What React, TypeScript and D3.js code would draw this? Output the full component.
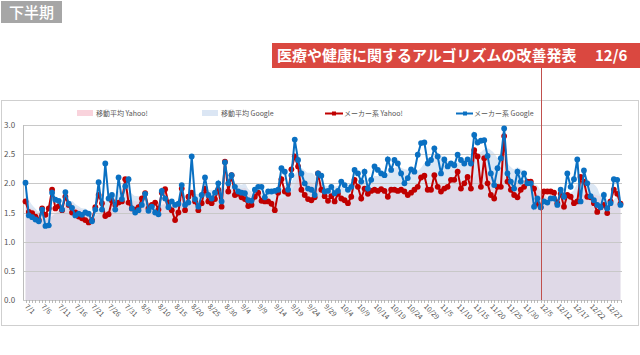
import React from "react";
import * as d3 from "d3";

const xLabels = ["7/1","7/6","7/11","7/16","7/21","7/26","7/31","8/5","8/10","8/15","8/20","8/25","8/30","9/4","9/9","9/14","9/19","9/24","9/29","10/4","10/9","10/14","10/19","10/24","10/29","11/5","11/10","11/15","11/20","11/25","11/30","12/5","12/12","12/17","12/22","12/27"];

const yahoo = [
  1.69,1.51,1.49,1.43,1.37,1.57,1.46,1.57,1.89,1.57,
  1.61,1.54,1.77,1.63,1.50,1.50,1.43,1.40,1.37,1.33,
  1.37,1.59,1.80,1.66,1.44,1.47,1.70,1.63,1.67,1.69,
  2.07,1.67,1.57,1.55,1.59,1.74,1.83,1.57,1.63,1.67,
  1.55,1.84,1.90,1.67,1.54,1.37,1.50,1.91,1.54,1.77,
  1.84,1.69,1.54,1.66,1.91,1.69,1.66,1.73,1.89,1.60,
  2.37,1.86,2.14,1.80,1.82,1.76,1.73,1.61,1.63,1.77,
  1.84,1.70,1.69,1.69,1.65,1.54,1.84,2.07,1.86,1.82,
  2.24,2.46,2.29,1.89,1.80,1.73,1.71,1.76,2.17,1.89,
  1.78,1.70,1.78,1.69,1.82,1.74,1.71,1.66,1.77,2.06,
  1.94,1.74,1.91,1.82,1.87,1.89,1.87,1.90,1.87,1.77,
  1.89,1.89,1.87,1.89,1.86,1.80,1.84,1.89,1.94,2.10,
  2.13,1.89,1.89,2.14,1.94,1.86,1.91,1.94,2.06,2.06,
  2.20,1.91,2.00,2.11,1.91,2.57,2.46,1.94,2.43,2.00,
  1.80,1.74,1.94,1.94,2.81,2.03,1.89,1.80,1.76,1.89,
  1.94,2.03,2.03,1.91,1.65,1.59,1.86,1.86,1.86,1.84,
  1.66,1.82,1.60,1.80,1.77,1.66,1.69,2.11,2.03,1.77,
  1.76,1.66,1.51,1.59,1.63,1.49,1.69,1.89,1.82,1.65
];

const google = [
  2.01,1.45,1.42,1.38,1.35,1.55,1.27,1.28,1.84,1.72,
  1.70,1.55,1.85,1.65,1.58,1.45,1.48,1.46,1.50,1.48,
  1.35,1.55,2.02,1.55,2.34,1.74,1.80,1.55,2.10,1.73,
  1.95,2.07,1.57,1.50,1.54,1.63,1.82,1.53,1.60,1.50,
  1.47,1.87,1.74,1.59,1.69,1.63,1.65,1.97,1.63,1.67,
  2.46,1.73,1.60,1.80,2.10,1.80,1.74,1.84,2.00,1.69,
  2.36,2.00,2.14,1.94,1.86,1.84,1.83,1.71,1.70,1.89,
  1.94,1.94,1.76,1.86,1.86,1.87,1.89,2.26,2.20,1.89,
  2.14,2.75,2.40,2.17,2.00,1.91,1.89,1.80,2.17,2.13,
  1.86,1.87,1.94,1.83,1.87,2.03,1.97,1.89,1.94,2.23,
  2.17,2.03,2.20,1.91,2.06,2.29,2.23,2.17,2.14,2.41,
  2.23,2.40,2.34,2.17,2.00,2.09,2.24,2.20,2.49,2.69,
  2.70,2.34,2.40,2.60,2.46,2.17,2.41,2.29,2.34,2.31,
  2.49,2.40,2.34,2.41,2.34,2.83,2.70,2.73,2.74,2.47,
  2.17,1.97,2.26,2.43,2.94,2.17,2.03,1.91,2.20,2.03,
  2.17,2.00,2.00,1.60,1.74,1.59,1.69,1.67,1.74,1.74,
  1.63,1.89,1.77,2.17,1.94,2.07,2.41,1.69,2.22,2.00,
  1.78,1.71,1.63,1.59,1.80,1.57,1.66,2.07,2.06,1.63
];

const yTicks = [0, 0.5, 1.0, 1.5, 2.0, 2.5, 3.0];
const legendNames = ["移動平均 Yahoo!", "移動平均 Google", "メーカー系 Yahoo!", "メーカー系 Google"];
const bannerText = "医療や健康に関するアルゴリズムの改善発表";
const bannerDate = "12/6";
const eventIndex = 155;
const maWindow = 7;

function movingAvg(arr: number[], w: number) {
  return arr.map((_, i) => d3.mean(arr.slice(Math.max(0, i - w + 1), i + 1)) as number);
}

export default function App() {
  const W = 640, H = 355;
  const x = d3.scaleLinear().domain([0, yahoo.length - 1]).range([25.5, 620.5]);
  const y = d3.scaleLinear().domain([0, 3]).range([300, 125]);
  const plotL = 23, plotR = 622;

  const maY = movingAvg(yahoo, maWindow);
  const maG = movingAvg(google, maWindow);

  const area = d3.area<number>().x((_, i) => x(i)).y0(y(0)).y1((d) => y(d)).curve(d3.curveMonotoneX);
  const line = d3.line<number>().x((_, i) => x(i)).y((d) => y(d));

  const font = "'Noto Sans CJK JP', 'Noto Sans', sans-serif";
  const red = "#c00000";
  const blue = "#0a70c2";

  return (
    <div style={{ position: "absolute", left: 0, top: 0 }}>
      <svg width={W} height={H} style={{ display: "block", fontFamily: font }}>
        <rect x={0} y={0} width={W} height={H} fill="#fff" />
        {/* top-left label */}
        <rect x={1} y={1} width={61} height={22} fill="#a6a6a6" />
        <text x={9} y={18} fill="#fff" fontSize={15} fontWeight={500}>下半期</text>

        {/* frame */}
        <rect x={1.5} y={100.5} width={637} height={225} fill="none" stroke="#cfcfcf" strokeWidth={1} />

        {/* areas */}
        <path d={area(maG) || ""} fill="#dce7f4" />
        <path d={area(maY) || ""} fill="#eca8bc" fillOpacity={0.22} />

        {/* grid */}
        {yTicks.map((t) => (
          <g key={t}>
            <line x1={plotL} x2={plotR} y1={Math.round(y(t)) + 0.5} y2={Math.round(y(t)) + 0.5} stroke="#c8c8c8" strokeWidth={1} />
            <text x={4} y={y(t) + 3} fontSize={8} fill="#555">{t.toFixed(1)}</text>
          </g>
        ))}
        <line x1={plotL + 0.5} x2={plotL + 0.5} y1={125} y2={300} stroke="#bdbdbd" />
        {/* x ticks */}
        {yahoo.map((_, i) => (
          <line key={i} x1={Math.round(x(i)) + 0.5} x2={Math.round(x(i)) + 0.5} y1={300} y2={303} stroke="#aaa" strokeWidth={0.8} />
        ))}
        {xLabels.map((lab, k) => (
          <text key={lab} transform={`translate(${x(k * 5) - 1},${307}) rotate(45)`} fontSize={7} fill="#555">{lab}</text>
        ))}

        {/* series */}
        <path d={line(yahoo) || ""} fill="none" stroke={red} strokeWidth={2} />
        {yahoo.map((v, i) => <circle key={i} cx={x(i)} cy={y(v)} r={2.9} fill={red} />)}
        <path d={line(google) || ""} fill="none" stroke={blue} strokeWidth={2} />
        {google.map((v, i) => <circle key={i} cx={x(i)} cy={y(v)} r={2.9} fill={blue} />)}

        {/* legend */}
        <rect x={77} y={110} width={16} height={6} fill="#f9d3dc" />
        <text x={96} y={116} fontSize={7} fill="#555">{legendNames[0]}</text>
        <rect x={202} y={110} width={16} height={6} fill="#dbe6f4" />
        <text x={221} y={116} fontSize={7} fill="#555">{legendNames[1]}</text>
        <line x1={325} x2={343} y1={113.5} y2={113.5} stroke={red} strokeWidth={2} />
        <rect x={332} y={111.5} width={4} height={4} fill={red} />
        <text x={344} y={116} fontSize={7} fill="#555">{legendNames[2]}</text>
        <line x1={456} x2={473} y1={113.5} y2={113.5} stroke={blue} strokeWidth={2} />
        <rect x={463} y={111.5} width={4} height={4} fill={blue} />
        <text x={474} y={116} fontSize={7} fill="#555">{legendNames[3]}</text>

        {/* event line */}
        <line x1={Math.round(x(eventIndex)) + 0.5} x2={Math.round(x(eventIndex)) + 0.5} y1={68} y2={300} stroke="#c0504d" strokeWidth={1} />

        {/* banner */}
        <rect x={272} y={43} width={368} height={25} fill="#da4840" />
        <text x={277} y={61} fill="#fff" fontSize={15} fontWeight={700}>{bannerText}</text>
        <text x={595} y={61} fill="#fff" fontSize={15} fontWeight={700}>{bannerDate}</text>
      </svg>
    </div>
  );
}
